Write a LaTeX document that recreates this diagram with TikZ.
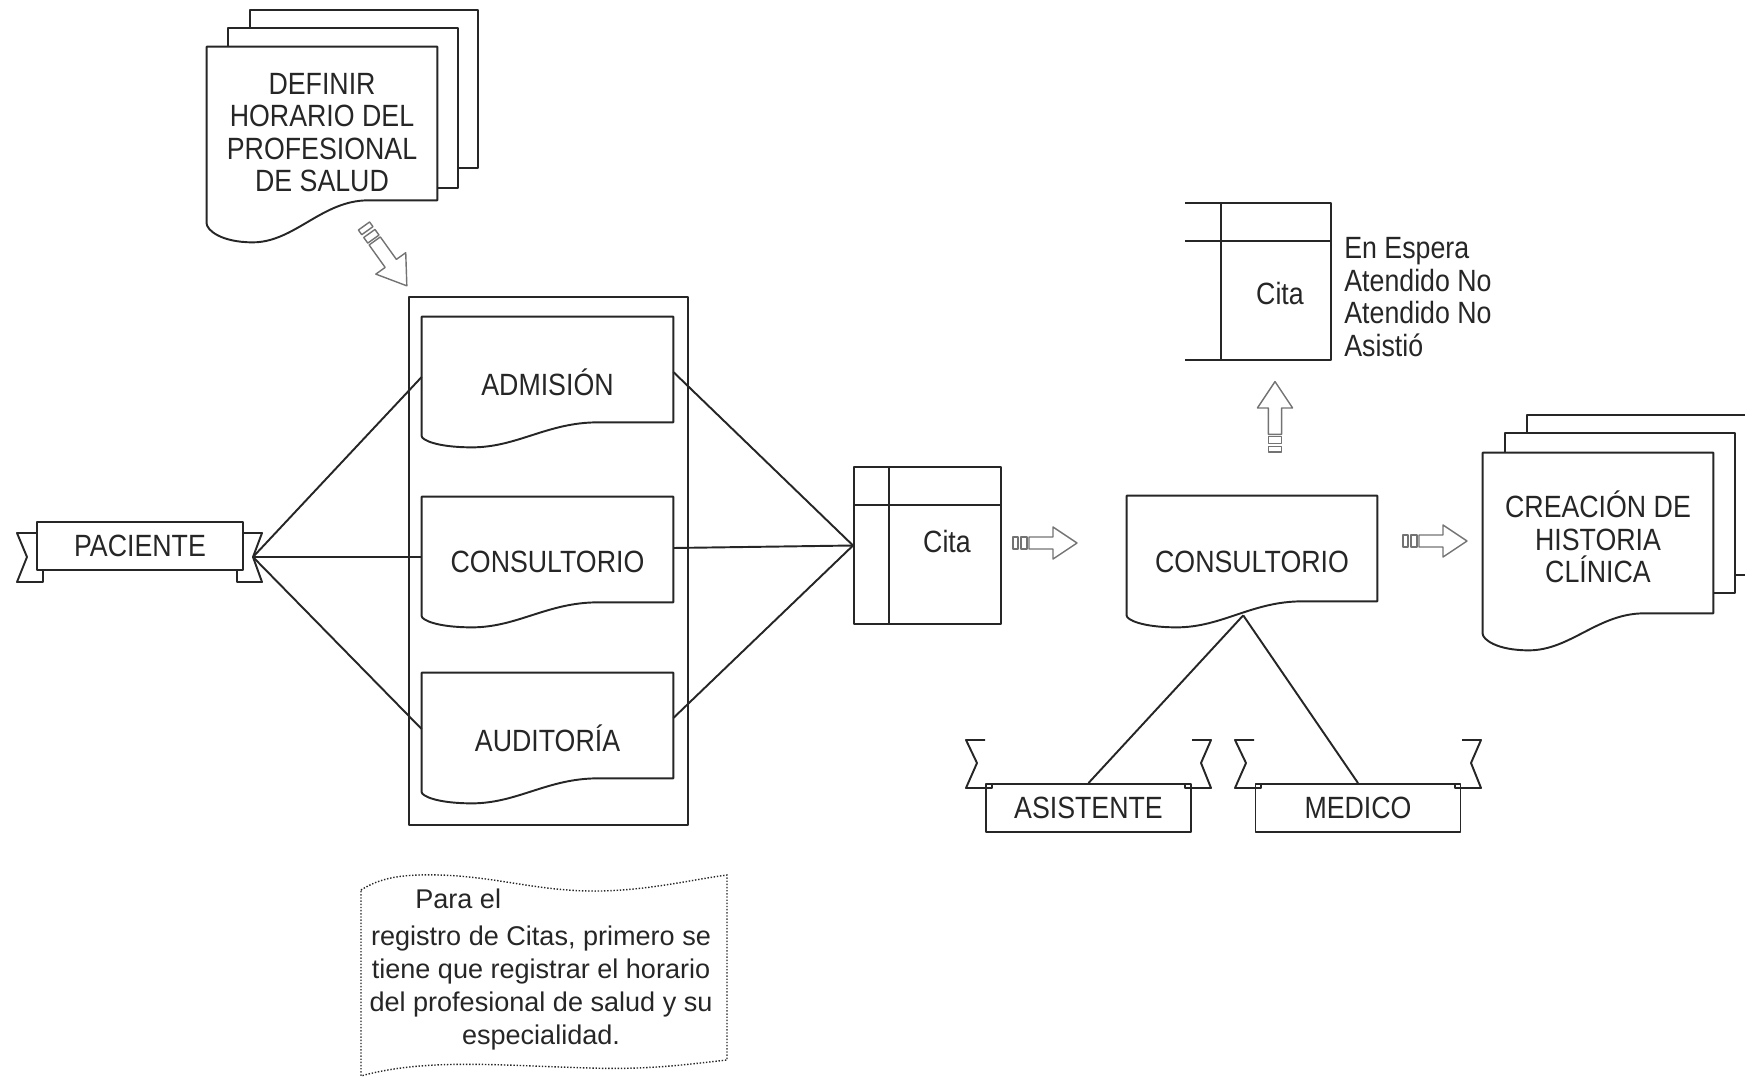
\documentclass[tikz,border=0pt]{standalone}
\usepackage{fontspec}
\setmainfont{Liberation Sans}[FakeStretch=0.87]
\newfontfamily\notefont{Liberation Sans}
\usetikzlibrary{calc}
\pgfdeclarelayer{back}
\pgfsetlayers{back,main}
\colorlet{ink}{black!85}
\colorlet{arrowink}{black!55}

\tikzset{
  shapeline/.style={draw=ink, line width=1.1pt, line join=round},
  conn/.style={draw=ink, line width=1.1pt},
  arrowline/.style={draw=arrowink, line width=0.8pt, line join=round},
  txt/.style={text=ink, font=\fontsize{17.5}{18.5}\selectfont, inner sep=0pt, align=center},
  notetxt/.style={text=ink, font=\notefont\fontsize{15.4}{18.7}\selectfont, inner sep=0pt},
  docnode/.style 2 args={txt, minimum width=#1*0.02cm, minimum height=#2*0.02cm},
  banner/.style={txt, shapeline, fill=white, minimum width=205*0.02cm, minimum height=48*0.02cm},
  blockarrow/.pic={
    \draw[arrowline] (0,-6) rectangle (5,6);
    \draw[arrowline] (8,-6) rectangle (14,6);
    \draw[arrowline] (16,-6) -- (40,-6) -- (40,-16) -- (64,0) -- (40,16) -- (40,6) -- (16,6) -- cycle;
  }
}

% document symbol with a wavy lower edge, drawn behind the node text
\newcommand\docoutline[2]{%
  \begin{pgfonlayer}{back}
  \draw[shapeline, fill=white] (#1.north west) -- (#1.north east)
    -- ($(#1.south east)+(0,-#2)$)
    -- ($(#1.south west)!0.7!(#1.south east)+(0,-#2)$)
    .. controls ($(#1.south west)!0.5!(#1.south east)+(0,-#2)$)
    and ($(#1.south west)!0.38!(#1.south east)$)
    .. ($(#1.south west)!0.2!(#1.south east)$)
    .. controls ($(#1.south west)!0.06!(#1.south east)$)
    and ($(#1.south west)+(0,-0.3*#2)$)
    .. ($(#1.south west)+(0,-0.45*#2)$) -- cycle;
  \end{pgfonlayer}}

\begin{document}
\begin{tikzpicture}[x=0.02cm, y=-0.02cm]
\useasboundingbox (0,0) rectangle (1745,1078);

% ---- schedule definition (stack of documents)
\begin{pgfonlayer}{back}
  \draw[shapeline, fill=white] (250,10) rectangle (478,168);
  \draw[shapeline, fill=white] (228,28) rectangle (458,188);
\end{pgfonlayer}
\node[docnode={230}{195}] (defin) at (322,144.5) {DEFINIR\\HORARIO DEL\\PROFESIONAL\\DE SALUD\\[-5pt]\mbox{}};
\docoutline{defin}{42}
\pic[rotate=-54.4, scale=1.15] at (364,226) {blockarrow};

% ---- container with the three areas
\node[shapeline, minimum width=279*0.02cm, minimum height=528*0.02cm, inner sep=0pt] (panel) at (548.5,561) {};
\node[docnode={251}{130}] (adm) at (547.5,382) {ADMISIÓN};
\docoutline{adm}{25}
\node[docnode={251}{130}] (cons1) at (547.5,562) {CONSULTORIO};
\docoutline{cons1}{25}
\node[docnode={251}{130}] (aud) at (547.5,738) {AUDITORÍA};
\docoutline{aud}{25}

% ---- patient banner
\node[banner, minimum width=206*0.02cm] (pac) at (140,546) {PACIENTE};
\draw[shapeline] (37,533) -- (17,533) -- (27,557) -- (17,582) -- (43,582) -- (43,570);
\draw[shapeline] (243,533) -- (262,533) -- (253,557) -- (262,582) -- (237,582) -- (237,570);
\coordinate (pacR) at (253,557);

\draw[conn] (pacR) -- ($(adm.west)+(0,-5)$);
\draw[conn] (pacR) -- ($(cons1.west)+(0,-5)$);
\draw[conn] (pacR) -- ($(aud.west)+(0,-9)$);

% ---- appointment table
\node[shapeline, minimum width=147*0.02cm, minimum height=157*0.02cm, inner sep=0pt] (cita) at (927.5,545.5) {};
\draw[shapeline] ($(cita.north west)+(36,0)$) -- ($(cita.south west)+(36,0)$);
\draw[shapeline] ($(cita.north west)+(0,39)$) -- ($(cita.north east)+(0,39)$);
\node[txt] (citalbl) at (947,542) {Cita};

\draw[conn] ($(adm.east)+(0,-10)$) -- (cita.west);
\draw[conn] ($(cons1.east)+(0,-14)$) -- (cita.west);
\draw[conn] ($(aud.east)+(0,-20)$) -- (cita.west);

\pic at (1013,543) {blockarrow};

% ---- appointment states table
\draw[shapeline] (1185,203) -- (1331,203) -- (1331,360) -- (1185,360);
\draw[shapeline] (1185,241) -- (1331,241);
\draw[shapeline] (1221,203) -- (1221,360);
\node[txt] (estadolbl) at (1280,294) {Cita};
\node[txt, anchor=west, align=left] (estados) at (1344,297) {En Espera\\Atendido No\\Atendido No\\Asistió};
\pic[rotate=90, scale=1.1] at (1275,452) {blockarrow};

% ---- consulting room
\node[docnode={250}{131}] (cons2) at (1252,561.5) {CONSULTORIO};
\docoutline{cons2}{26}
\coordinate (consB) at ($(cons2.south west)!0.465!(cons2.south east)+(0,-12)$);

\node[banner] (asis) at (1088.5,808) {ASISTENTE};
\draw[shapeline] (985,740) -- (966,740) -- (977,763) -- (966,788) -- (992,788) -- (992,784);
\draw[shapeline] (1192,740) -- (1211,740) -- (1201,763) -- (1211,788) -- (1185,788) -- (1185,784);
\node[banner] (med) at (1358,808) {MEDICO};
\draw[shapeline] (1254,740) -- (1235,740) -- (1246,763) -- (1235,788) -- (1261,788) -- (1261,784);
\draw[shapeline] (1462,740) -- (1481,740) -- (1471,763) -- (1481,788) -- (1455,788) -- (1455,784);

\draw[conn] (consB) -- (asis.north);
\draw[conn] (consB) -- (med.north);

\pic at (1403,541) {blockarrow};

% ---- clinical record (stack of documents)
\begin{pgfonlayer}{back}
  \draw[shapeline, fill=white] (1745,415) -- (1527,415) -- (1527,575) -- (1745,575);
  \draw[shapeline, fill=white] (1505,433) rectangle (1735,593);
\end{pgfonlayer}
\node[docnode={230}{197}] (creac) at (1598,551.5) {CREACIÓN DE\\HISTORIA\\CLÍNICA\\[-2pt]\mbox{}};
\docoutline{creac}{37}

% ---- annotation
\draw[ink, densely dotted, line width=0.8pt]
  (361,890) .. controls (380,878) and (400,874) .. (440,875)
  .. controls (500,877) and (540,892) .. (600,891)
  .. controls (650,890) and (690,880) .. (727,875)
  -- (727,1060)
  .. controls (690,1064) and (650,1070) .. (590,1068)
  .. controls (520,1066) and (470,1062) .. (420,1066)
  .. controls (395,1068) and (375,1072) .. (361,1076) -- cycle;
\node[notetxt, anchor=base west] (notehead) at (415,908) {Para el};
\node[notetxt, align=center] (notebody) at (541,988) {registro de Citas, primero se\\tiene que registrar el horario\\del profesional de salud y su\\especialidad.};
\end{tikzpicture}
\end{document}
